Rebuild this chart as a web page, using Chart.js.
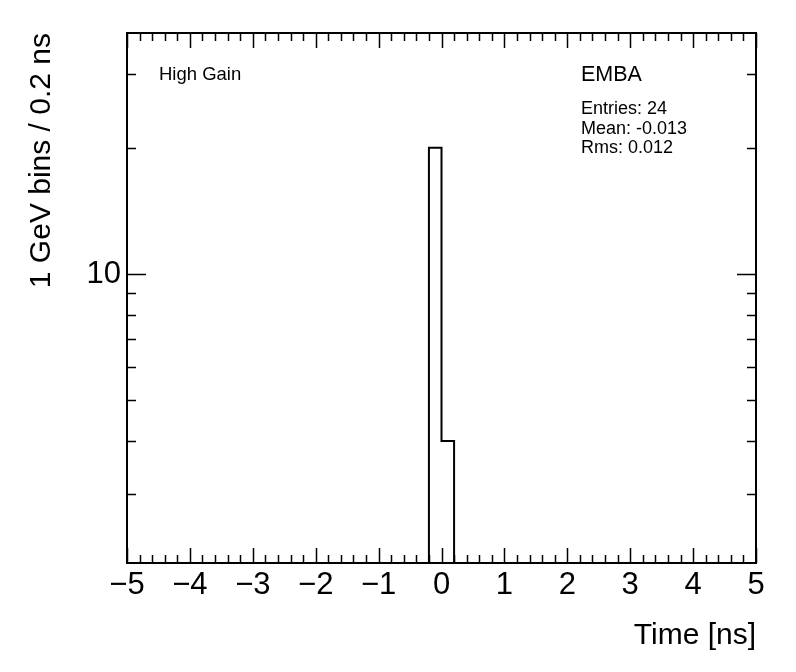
<!DOCTYPE html>
<html>
<head>
<meta charset="utf-8">
<script src="https://cdn.jsdelivr.net/npm/chart.js@4/dist/chart.umd.min.js"></script>
<style>
  body { margin: 0; background: #fff; }
</style>
</head>
<body>
<canvas id="hist" width="796" height="672"></canvas>
<script>
// histogram: 50 bins of 0.2 ns from -5 to 5
const xMin = -5;
const xMax = 5;
const binWidth = 0.2;
const counts = [
  0, 0, 0, 0, 0, 0, 0, 0, 0, 0,
  0, 0, 0, 0, 0, 0, 0, 0, 0, 0,
  0, 0, 0, 0, 20, 4, 0, 0, 0, 0,
  0, 0, 0, 0, 0, 0, 0, 0, 0, 0,
  0, 0, 0, 0, 0, 0, 0, 0, 0, 0
];
const xTickValues = [-5, -4, -3, -2, -1, 0, 1, 2, 3, 4, 5];
const xTickLabels = ['\u22125', '\u22124', '\u22123', '\u22122', '\u22121', '0', '1', '2', '3', '4', '5'];
const yMin = 2.05;
const yMax = 37.5;
const yTickValues = [10];
const yTickLabels = ['10'];
const yMinorTicks = [3, 4, 5, 6, 7, 8, 9, 20, 30];

const FONT = 'Liberation Sans';

// outline points, empty bins sit on the axis minimum like ROOT does
const plotPoints = [];
counts.forEach((c, i) => {
  const v = Math.max(c, yMin);
  plotPoints.push({x: xMin + i * binWidth, y: v});
  plotPoints.push({x: xMin + (i + 1) * binWidth, y: v});
});

// frame with inward ticks on all four sides + the text labels
const rootFrame = {
  id: 'rootFrame',
  afterDraw(chart) {
    const {ctx, chartArea: a, scales: {x, y}} = chart;
    ctx.save();
    ctx.strokeStyle = '#000';
    ctx.lineWidth = 1.5;
    ctx.beginPath();
    for (let i = 0; i <= counts.length; i++) {
      const v = xMin + i * binWidth;
      const px = Math.round(x.getPixelForValue(v)) + 0.5;
      const len = (i % 5 === 0) ? 15 : 8;
      ctx.moveTo(px, a.bottom); ctx.lineTo(px, a.bottom - len);
      ctx.moveTo(px, a.top); ctx.lineTo(px, a.top + len);
    }
    yMinorTicks.concat(yTickValues).forEach(v => {
      const py = Math.round(y.getPixelForValue(v)) + 0.5;
      const len = yTickValues.includes(v) ? 19 : 9;
      ctx.moveTo(a.left, py); ctx.lineTo(a.left + len, py);
      ctx.moveTo(a.right, py); ctx.lineTo(a.right - len, py);
    });
    ctx.stroke();
    ctx.lineWidth = 2;
    ctx.strokeRect(a.left, a.top, a.right - a.left, a.bottom - a.top);

    ctx.fillStyle = '#000';
    ctx.textAlign = 'left';
    ctx.textBaseline = 'alphabetic';
    ctx.font = '18.5px "' + FONT + '"';
    ctx.fillText('High Gain', 159, 80);
    ctx.font = '21.5px "' + FONT + '"';
    ctx.fillText('EMBA', 581, 81);
    ctx.font = '18px "' + FONT + '"';
    ctx.fillText('Entries: 24', 581, 114);
    ctx.fillText('Mean: -0.013', 581, 134);
    ctx.fillText('Rms: 0.012', 581, 153);
    ctx.restore();
  }
};

new Chart(document.getElementById('hist'), {
  type: 'line',
  data: {
    datasets: [{
      data: plotPoints,
      borderColor: '#000',
      borderWidth: 2,
      pointRadius: 0,
      fill: false,
      tension: 0
    }]
  },
  options: {
    responsive: false,
    animation: false,
    layout: { padding: { top: 33, right: 40, left: 0, bottom: 0 } },
    plugins: { legend: { display: false }, tooltip: { enabled: false } },
    scales: {
      x: {
        type: 'linear',
        min: xMin,
        max: xMax,
        grid: { display: false, drawTicks: false },
        border: { display: false },
        afterBuildTicks: s => { s.ticks = xTickValues.map(v => ({value: v})); },
        afterFit: s => { s.height = 109; },
        ticks: {
          autoSkip: false,
          maxRotation: 0,
          padding: 4,
          color: '#000',
          font: { family: FONT, size: 31 },
          callback: v => xTickLabels[xTickValues.indexOf(v)]
        },
        title: {
          display: true,
          text: 'Time [ns]',
          align: 'end',
          color: '#000',
          font: { family: FONT, size: 30 },
          padding: { top: 0, bottom: 18 }
        }
      },
      y: {
        type: 'logarithmic',
        min: yMin,
        max: yMax,
        grid: { display: false, drawTicks: false },
        border: { display: false },
        afterBuildTicks: s => { s.ticks = yTickValues.map(v => ({value: v})); },
        afterFit: s => { s.width = 127; },
        ticks: {
          padding: 6,
          color: '#000',
          font: { family: FONT, size: 31 },
          callback: v => yTickLabels[yTickValues.indexOf(v)]
        },
        title: {
          display: true,
          text: '1 GeV bins / 0.2 ns',
          align: 'end',
          color: '#000',
          font: { family: FONT, size: 30 },
          padding: { top: 24, bottom: 0 }
        }
      }
    }
  },
  plugins: [rootFrame]
});
</script>
</body>
</html>
